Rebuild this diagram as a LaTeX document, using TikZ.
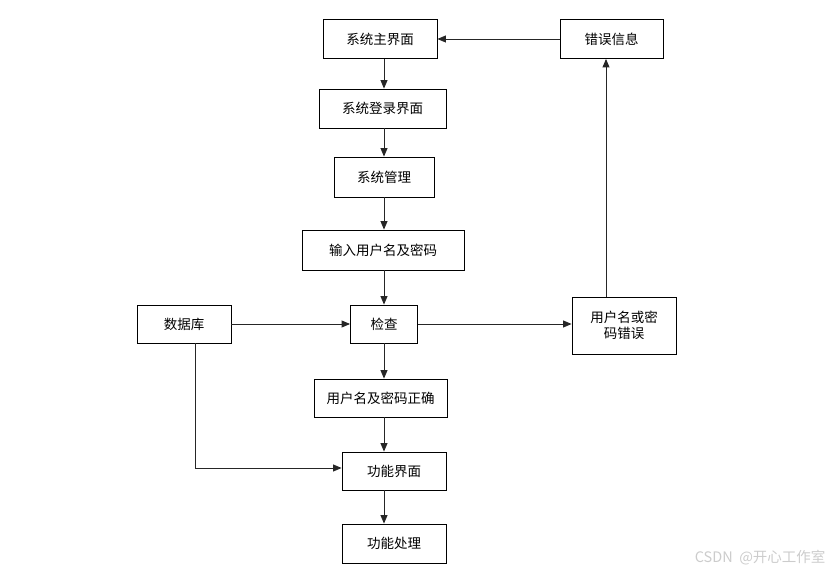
\documentclass[tikz,border=0pt]{standalone}
\usepackage{fontspec}
\newfontfamily\cjk{Noto Sans CJK SC}
\usetikzlibrary{arrows.meta}
\begin{document}
\begin{tikzpicture}[x=1pt,y=-1pt,
  box/.style={draw=black, line width=0.9pt, inner sep=0pt, font=\cjk\fontsize{13.5}{16.5}\selectfont, text=black, align=center},
  arr/.style={draw=black!85, line width=0.9pt, -{Triangle[length=8.5pt,width=7pt]}},
  ln/.style={draw=black!85, line width=0.9pt}]
\useasboundingbox (0,0) rectangle (839,575);
\node[box, minimum width=114pt, minimum height=39pt] (main) at (380,39) {系统主界面};
\node[box, minimum width=103pt, minimum height=39pt] (err) at (611.5,39) {错误信息};
\node[box, minimum width=127pt, minimum height=39pt] (login) at (382.5,108.5) {系统登录界面};
\node[box, minimum width=100pt, minimum height=40pt] (mgr) at (384,177) {系统管理};
\node[box, minimum width=162pt, minimum height=40pt] (input) at (383,250) {输入用户名及密码};
\node[box, minimum width=94pt, minimum height=38pt] (db) at (184,324) {数据库};
\node[box, minimum width=67pt, minimum height=38pt] (chk) at (384,324) {检查};
\node[box, minimum width=104pt, minimum height=57pt] (wrong) at (624,325.5) {用户名或密\\码错误};
\node[box, minimum width=133pt, minimum height=38pt] (ok) at (380.5,398) {用户名及密码正确};
\node[box, minimum width=104pt, minimum height=38pt] (func) at (394,471) {功能界面};
\node[box, minimum width=104pt, minimum height=39pt] (proc) at (394,543.5) {功能处理};
\node[font=\cjk\fontsize{14.5}{16}\selectfont, text=black!20, anchor=east] (wm) at (829,558) {CSDN\ \ @开心工作室};
\coordinate (colA) at (384,0);
\coordinate (colB) at (606,0);
\coordinate (colC) at (195,0);
\coordinate (rowA) at (0,468);
\draw[arr] (main.south -| colA) -- (login.north -| colA);
\draw[arr] (login.south -| colA) -- (mgr.north -| colA);
\draw[arr] (mgr.south -| colA) -- (input.north -| colA);
\draw[arr] (input.south -| colA) -- (chk.north -| colA);
\draw[arr] (chk.south -| colA) -- (ok.north -| colA);
\draw[arr] (ok.south -| colA) -- (func.north -| colA);
\draw[arr] (func.south -| colA) -- (proc.north -| colA);
\draw[arr] (db.east) -- (chk.west);
\draw[arr] (chk.east) -- (wrong.west |- chk.east);
\draw[arr] (wrong.north -| colB) -- (err.south -| colB);
\draw[arr] (err.west) -- (main.east);
\draw[arr] (db.south -| colC) -- (colC |- rowA) -- (func.west |- rowA);
\end{tikzpicture}
\end{document}
